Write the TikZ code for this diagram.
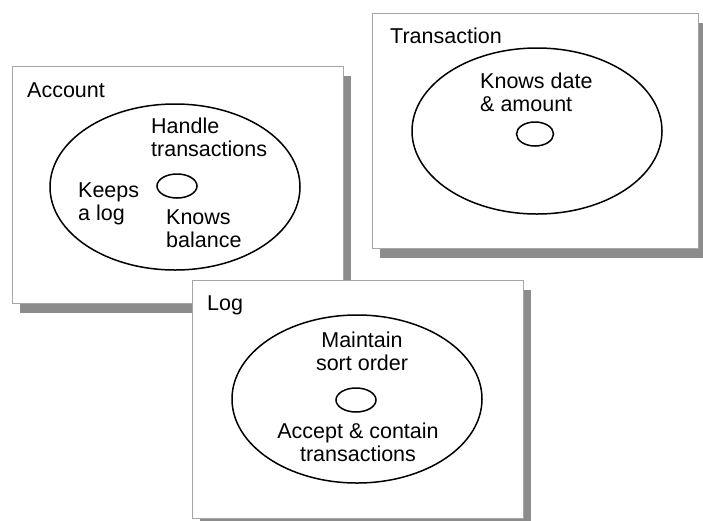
\documentclass[tikz,border=0pt]{standalone}
\usepackage{fontspec}
\setmainfont{Liberation Sans}
\usetikzlibrary{positioning, shapes.geometric, shadows}

\begin{document}
\begin{tikzpicture}[
    x=1pt, y=-1pt,
    card/.style={draw=black!35, line width=1pt, fill=white,
                 rectangle, inner sep=0pt,
                 drop shadow={shadow xshift=8pt, shadow yshift=-10pt,
                              fill=black!45, opacity=1}},
    blob/.style={draw, ellipse, line width=1.5pt, inner sep=0pt,
                 minimum width=250pt, minimum height=166pt},
    core/.style={draw, ellipse, line width=1.5pt, inner sep=0pt,
                 minimum width=40pt, minimum height=24pt},
    title/.style={anchor=base west, inner sep=0pt,
                  font=\fontsize{21.5}{23}\selectfont},
    resp/.style={inner sep=0pt, font=\fontsize{21.5}{23}\selectfont}
  ]
  \useasboundingbox (0,0) rectangle (703,520);

  % Account
  \node[card, minimum width=331pt, minimum height=237pt] (account) at (177.5,184.5) {};
  \node[title] (accname) at (27,97) {Account};
  \node[blob] (accblob) at (175,187) {};
  \node[core] (acccore) at (177,186) {};
  \node[resp, anchor=north west, align=left] (handle) at (151,118) {Handle\\transactions};
  \node[resp, anchor=north west, align=left] (keeps) at (78,183) {Keeps\\a log};
  \node[resp, anchor=north west, align=left] (balance) at (166,210) {Knows\\balance};

  % Transaction
  \node[card, minimum width=326pt, minimum height=235pt] (trans) at (535,130.5) {};
  \node[title] (transname) at (390,43) {Transaction};
  \node[blob] (transblob) at (537,131) {};
  \node[core, minimum width=37pt] (transcore) at (535,134) {};
  \node[resp, anchor=north west, align=left] (date) at (480,73) {Knows date\\\& amount};

  % Log
  \node[card, minimum width=331pt, minimum height=238pt] (log) at (357.5,399) {};
  \node[title] (logname) at (207,310) {Log};
  \node[blob, minimum height=168pt] (logblob) at (357,399) {};
  \node[core] (logcore) at (356,400) {};
  \node[resp, anchor=north, align=center] (sort) at (362,332) {Maintain\\sort order};
  \node[resp, anchor=north, align=center] (accept) at (358,423) {Accept \& contain\\transactions};
\end{tikzpicture}
\end{document}
